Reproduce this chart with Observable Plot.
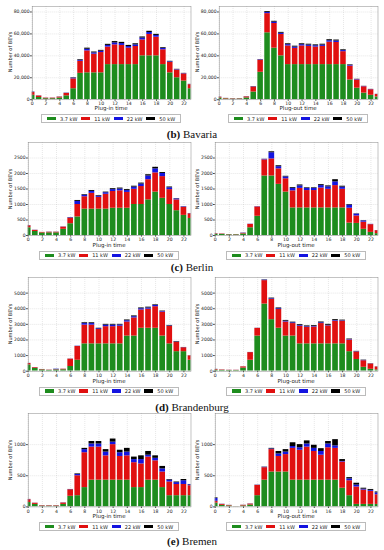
<!DOCTYPE html>
<html>
<head>
<meta charset="utf-8">
<script src="https://cdn.jsdelivr.net/npm/d3@7"></script>
<script src="https://cdn.jsdelivr.net/npm/@observablehq/plot@0.6"></script>
<style>
  html, body { margin: 0; padding: 0; background: #fff; }
  #root { position: relative; width: 384px; height: 550px; overflow: hidden; background: #fff; font-family: "DejaVu Sans", sans-serif; }
  .abs { position: absolute; }
  .ylab { font-size: 5px; color: #222; white-space: nowrap; transform: translate(-50%, -50%) rotate(-90deg); }
  .xlab { font-size: 5.5px; color: #222; white-space: nowrap; transform: translate(-50%, -50%); }
  .cap { font-family: "Liberation Serif", serif; font-size: 11px; color: #111; white-space: nowrap; transform: translate(-50%, -50%); }
  .legend { display: flex; align-items: center; justify-content: space-around; border: 0.6px solid #bbb; box-sizing: border-box; height: 9px; font-size: 5px; color: #222; transform: translateX(-50%); padding: 0 3px; }
  .legend .it { display: flex; align-items: center; }
  .legend .sw { display: inline-block; width: 9px; height: 3.5px; margin-right: 4px; }
</style>
</head>
<body>
<div id="root"></div>
<script>
const hours = d3.range(0, 24);
const xTicks = [0, 2, 4, 6, 8, 10, 12, 14, 16, 18, 20, 22];
const seriesNames = ["3.7 kW", "11 kW", "22 kW", "50 kW"];
const seriesColors = ["#1e8c1e", "#e01010", "#1414e0", "#000000"];

// Bavaria, plug-in
const bavariaIn37 = [4000,2000,900,900,1500,3500,10000,24000,24500,24500,24500,32000,32000,32000,32000,32000,40000,40000,40000,32000,24500,20000,17000,10000];
const bavariaIn11 = [2500,1300,500,500,800,2200,9000,11000,20000,17000,18500,16000,18000,17500,15000,16500,14500,19500,17000,13500,9500,7000,6500,3700];
const bavariaIn22 = [300,100,50,50,100,200,600,900,1500,1200,1200,1500,1800,1700,1500,1500,1700,1800,1600,1200,600,400,300,200];
const bavariaIn50 = [200,100,50,50,100,100,400,600,1000,800,800,1000,1200,1100,1000,1000,1000,1100,1000,700,400,300,200,100];
// Bavaria, plug-out
const bavariaOut37 = [1500,700,500,600,1600,7000,25000,61000,47000,40000,32000,32000,32000,32000,32000,32000,32000,32000,32000,18000,10500,6000,4000,2500];
const bavariaOut11 = [700,400,300,300,900,4600,11000,17500,22500,19500,17000,14800,17000,16600,16000,16600,20500,20200,11800,12600,7500,5800,5100,2200];
const bavariaOut22 = [100,50,50,50,100,250,400,1000,1200,1100,1200,1200,1200,1200,1200,1200,1300,1300,1000,700,400,250,200,100];
const bavariaOut50 = [100,50,50,50,100,150,200,800,800,800,800,800,800,800,800,800,900,900,700,500,200,150,100,100];

// Berlin, plug-in
const berlinIn37 = [250,130,80,85,85,200,380,600,850,850,850,850,880,880,880,1000,1000,1150,1400,1200,1000,800,650,550];
const berlinIn11 = [60,35,20,20,20,70,180,400,400,510,380,480,540,560,510,490,580,650,620,700,480,350,260,150];
const berlinIn22 = [5,3,0,3,3,5,15,100,50,60,40,50,60,60,60,70,80,120,130,100,60,30,15,8];
const berlinIn50 = [5,2,0,2,2,2,5,30,20,30,20,20,30,30,30,30,30,40,50,30,25,10,5,2];
// Berlin, plug-out
const berlinOut37 = [40,35,20,20,50,250,620,1920,1920,1650,1400,890,890,890,890,890,890,890,890,400,390,200,100,60];
const berlinOut11 = [15,12,8,8,20,110,300,520,550,500,430,550,630,560,560,640,600,720,600,480,240,230,250,95];
const berlinOut22 = [3,2,1,1,8,5,8,15,200,70,60,80,80,70,70,80,80,120,70,100,60,40,8,3];
const berlinOut50 = [2,1,1,1,2,0,2,5,30,30,20,26,30,20,20,30,30,70,30,20,10,10,2,2];

// Brandenburg, plug-in
const brandenburgIn37 = [400,180,80,50,80,90,300,700,1750,1750,1750,1750,1750,1750,2250,2250,2750,2750,2750,2250,1750,1250,1250,700];
const brandenburgIn11 = [90,45,25,15,20,35,470,880,1200,1200,920,1100,1100,1130,900,1160,1170,1220,1380,1530,1120,600,250,280];
const brandenburgIn22 = [5,3,3,3,25,3,5,15,100,100,50,100,100,80,80,80,80,80,80,40,30,20,10,5];
const brandenburgIn50 = [5,2,2,2,5,2,5,5,50,50,30,50,50,40,50,50,50,50,40,30,30,30,10,5];
// Brandenburg, plug-out
const brandenburgOut37 = [70,50,40,40,200,700,2250,4300,3300,2750,2250,2250,1750,1750,1750,1750,1750,1750,1750,1250,750,250,120,80];
const brandenburgOut11 = [40,25,15,15,75,490,490,1500,1300,1200,900,800,1130,1060,1080,1300,1150,1450,1450,750,480,420,340,190];
const brandenburgOut22 = [5,3,3,3,3,5,5,30,40,50,50,50,50,40,40,50,40,40,30,30,20,20,10,5];
const brandenburgOut50 = [5,2,2,2,2,5,5,20,40,50,50,40,50,50,50,50,60,60,40,30,20,20,10,5];

// Bremen, plug-in
const bremenIn37 = [70,40,12,12,12,40,170,180,310,430,430,430,430,430,430,310,310,430,430,310,180,180,180,180];
const bremenIn11 = [45,18,7,7,7,22,105,320,560,530,530,390,570,380,390,400,380,370,310,250,220,180,180,160];
const bremenIn22 = [3,1,1,1,1,2,3,20,50,50,50,60,40,60,60,50,70,30,40,50,30,30,60,15];
const bremenIn50 = [2,1,0,0,0,1,2,10,20,40,40,40,50,40,60,40,60,60,40,40,10,10,20,5];
// Bremen, plug-out
const bremenOut37 = [60,25,15,3,15,30,180,430,560,560,560,430,430,430,430,430,430,430,300,180,40,40,40,40];
const bremenOut11 = [30,15,8,2,10,15,165,200,360,250,280,510,480,530,460,400,520,510,420,240,280,230,210,155];
const bremenOut22 = [45,2,1,0,1,2,3,6,10,40,40,30,40,50,50,60,60,40,10,30,30,15,15,30];
const bremenOut50 = [10,1,1,0,1,1,2,4,10,40,40,60,50,50,50,45,40,100,30,20,30,15,15,15];

const regions = [
  {name: "Bavaria", letter: "(b)", top: 5.5, bottom: 98.7, max: 85000, ticks: [0, 20000, 40000, 60000, 80000], fmt: d3.format(","),
   axisL: 31.7, axisR: 218.7, capY: 134,
   left: [bavariaIn37, bavariaIn11, bavariaIn22, bavariaIn50], right: [bavariaOut37, bavariaOut11, bavariaOut22, bavariaOut50]},
  {name: "Berlin", letter: "(c)", top: 142.3, bottom: 235.3, max: 3000, ticks: [0, 500, 1000, 1500, 2000, 2500], fmt: d3.format("d"),
   axisL: 27.7, axisR: 214.7, capY: 267,
   left: [berlinIn37, berlinIn11, berlinIn22, berlinIn50], right: [berlinOut37, berlinOut11, berlinOut22, berlinOut50]},
  {name: "Brandenburg", letter: "(d)", top: 277.3, bottom: 371, max: 6000, ticks: [0, 1000, 2000, 3000, 4000, 5000], fmt: d3.format("d"),
   axisL: 27.7, axisR: 214.7, capY: 406.5,
   left: [brandenburgIn37, brandenburgIn11, brandenburgIn22, brandenburgIn50], right: [brandenburgOut37, brandenburgOut11, brandenburgOut22, brandenburgOut50]},
  {name: "Bremen", letter: "(e)", top: 413.3, bottom: 506.7, max: 1500, ticks: [0, 500, 1000], fmt: d3.format("d"),
   axisL: 27.7, axisR: 214.7, capY: 541,
   left: [bremenIn37, bremenIn11, bremenIn22, bremenIn50], right: [bremenOut37, bremenOut11, bremenOut22, bremenOut50]}
];

const root = document.getElementById("root");

function stackRows(arrays) {
  const rows = [];
  hours.forEach((h, i) => {
    let acc = 0;
    arrays.forEach((arr, s) => {
      const v = arr[i];
      rows.push({h, s: seriesNames[s], y1: acc, y2: acc + v});
      acc += v;
    });
  });
  return rows;
}

function addDiv(cls, text, x, y, extra) {
  const d = document.createElement("div");
  d.className = "abs " + cls;
  d.textContent = text;
  d.style.left = x + "px";
  d.style.top = y + "px";
  if (extra) Object.assign(d.style, extra);
  root.appendChild(d);
  return d;
}

function panel(reg, arrays, offsetX, axisX, rightX, xLabel, yLabX) {
  const mt = 4, mb = 8;
  const h = reg.bottom - reg.top + mt + mb;
  const svg = Plot.plot({
    width: 192,
    height: h,
    marginLeft: axisX - offsetX,
    marginRight: offsetX + 192 - rightX,
    marginTop: mt,
    marginBottom: mb,
    style: {fontSize: "4.6px", fontFamily: "DejaVu Sans, sans-serif", color: "#222", background: "transparent", overflow: "visible"},
    x: {domain: [0, 23], ticks: xTicks, tickSize: 1.5, tickPadding: 1, label: null},
    y: {domain: [0, reg.max], ticks: reg.ticks, tickFormat: reg.fmt, tickSize: 1.5, tickPadding: 1, label: null},
    color: {domain: seriesNames, range: seriesColors},
    marks: [
      Plot.gridX(xTicks, {stroke: "#aaa", strokeOpacity: 0.7, strokeWidth: 0.4, strokeDasharray: "1,1"}),
      Plot.gridY(reg.ticks, {stroke: "#aaa", strokeOpacity: 0.7, strokeWidth: 0.4, strokeDasharray: "1,1"}),
      Plot.rect(stackRows(arrays), {x1: d => d.h - 0.4, x2: d => d.h + 0.4, y1: "y1", y2: "y2", fill: "s", clip: true}),
      Plot.frame({stroke: "#888", strokeWidth: 0.5})
    ]
  });
  svg.style.position = "absolute";
  svg.style.left = offsetX + "px";
  svg.style.top = (reg.top - mt) + "px";
  root.appendChild(svg);

  const cx = (axisX + rightX) / 2;
  addDiv("xlab", xLabel, cx, reg.bottom + 9.5);
  addDiv("ylab", "Number of BEVs", yLabX, (reg.top + reg.bottom) / 2);

  const lg = document.createElement("div");
  lg.className = "abs legend";
  lg.style.left = cx + "px";
  lg.style.top = (reg.bottom + 15.5) + "px";
  lg.style.width = "140px";
  seriesNames.forEach((n, i) => {
    const it = document.createElement("span");
    it.className = "it";
    const sw = document.createElement("span");
    sw.className = "sw";
    sw.style.background = seriesColors[i];
    it.appendChild(sw);
    const t = document.createElement("span");
    t.textContent = n;
    it.appendChild(t);
    lg.appendChild(it);
  });
  root.appendChild(lg);
}

regions.forEach(reg => {
  panel(reg, reg.left, 0, reg.axisL, 190.5, "Plug-in time", 10);
  panel(reg, reg.right, 192, reg.axisR, 377.5, "Plug-out time", 197);
  const c = addDiv("cap", "", 192, reg.capY);
  const b = document.createElement("b");
  b.textContent = reg.letter;
  c.appendChild(b);
  c.appendChild(document.createTextNode(" " + reg.name));
});
</script>
</body>
</html>
